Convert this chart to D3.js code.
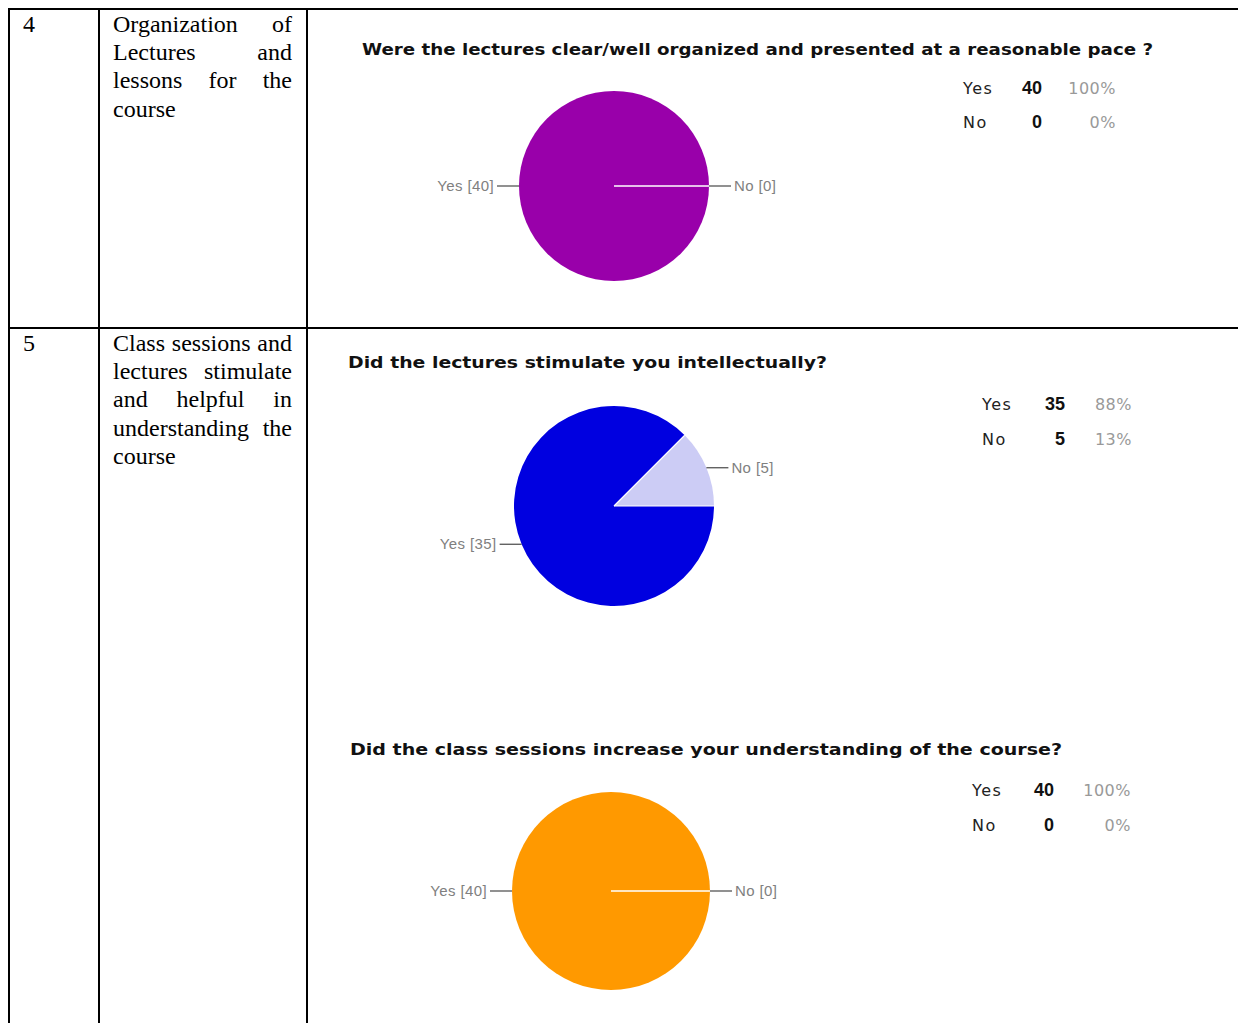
<!DOCTYPE html>
<html>
<head>
<meta charset="utf-8">
<script src="https://cdn.jsdelivr.net/npm/d3@7"></script>
<style>
  body { margin: 0; background: #fff; }
</style>
</head>
<body>
<div id="chart"></div>
<script>
// table rows
let rowNumbers = ["4", "5"];
let rowLabels = [
  ["Organization of", "Lectures and", "lessons for the", "course"],
  ["Class sessions and", "lectures stimulate", "and helpful in", "understanding the", "course"]
];

// the three survey questions
let questions = [
  "Were the lectures clear/well organized and presented at a reasonable pace ?",
  "Did the lectures stimulate you intellectually?",
  "Did the class sessions increase your understanding of the course?"
];
let answers = ["Yes", "No"];
let counts = [[40, 0], [35, 5], [40, 0]];
let percents = [["100%", "0%"], ["88%", "13%"], ["100%", "0%"]];

// colours of each pie (Yes, No)
let palettes = [["#9900aa", "#e0b3e6"], ["#0000e0", "#ccccf5"], ["#ff9900", "#ffe0b3"]];

let width = 1238;
let height = 1023;

let svg = d3.select("#chart")
  .append("svg")
  .attr("width", width)
  .attr("height", height);

svg.append("rect").attr("width", width).attr("height", height).attr("fill", "#fff");

// ---- table grid ----
let grid = svg.append("g").attr("stroke", "#000").attr("stroke-width", 2);
grid.append("line").attr("x1", 8).attr("x2", width).attr("y1", 9).attr("y2", 9);
grid.append("line").attr("x1", 8).attr("x2", width).attr("y1", 328).attr("y2", 328);
[9, 99, 307].forEach(x => {
  grid.append("line").attr("x1", x).attr("x2", x).attr("y1", 8).attr("y2", height);
});

// ---- table text (justified serif) ----
let rowTops = [32, 351];
let colLeft = 113, colRight = 292, lineH = 28.2;

rowNumbers.forEach((n, i) => {
  svg.append("text")
    .attr("x", 23).attr("y", rowTops[i])
    .style("font-family", "'Liberation Serif', 'Times New Roman', serif")
    .style("font-size", "24px")
    .text(n);

  rowLabels[i].forEach((line, j) => {
    let y = rowTops[i] + j * lineH;
    let words = line.split(" ");
    let isLast = j === rowLabels[i].length - 1;
    let g = svg.append("g");
    let nodes = words.map(w => g.append("text")
      .attr("y", y)
      .style("font-family", "'Liberation Serif', 'Times New Roman', serif")
      .style("font-size", "24px")
      .text(w));
    let widths = nodes.map(t => t.node().getComputedTextLength());
    let total = d3.sum(widths);
    let gap = (isLast || words.length < 2) ? 6 : (colRight - colLeft - total) / (words.length - 1);
    let x = colLeft;
    nodes.forEach((t, k) => {
      t.attr("x", x);
      x += widths[k] + gap;
    });
  });
});

// ---- pies ----
let layouts = [
  { title: [362, 55, 791], cx: 614, cy: 186, r: 95, legend: [963, 1042, 1116, 94, 34] },
  { title: [348, 368, 479], cx: 614, cy: 506, r: 100, legend: [982, 1065, 1132, 410, 35] },
  { title: [350, 755, 712], cx: 611, cy: 891, r: 99, legend: [972, 1054, 1131, 796, 35] }
];

let pie = d3.pie().sort(null).value(d => d.value)
  .startAngle(Math.PI / 2).endAngle(Math.PI / 2 + 2 * Math.PI);

questions.forEach((q, i) => {
  let L = layouts[i];
  let color = d3.scaleOrdinal().domain(answers).range(palettes[i]);

  svg.append("text")
    .attr("x", L.title[0]).attr("y", L.title[1])
    .attr("textLength", L.title[2])
    .attr("lengthAdjust", "spacingAndGlyphs")
    .style("font-family", "'DejaVu Sans', Verdana, sans-serif")
    .style("font-weight", "bold")
    .style("font-size", "16px")
    .style("fill", "#111")
    .text(q);

  let data = answers.map((a, k) => ({ label: a, value: counts[i][k] }));
  let arcs = pie(data);
  let arc = d3.arc().innerRadius(0).outerRadius(L.r);

  let g = svg.append("g").attr("transform", `translate(${L.cx},${L.cy})`);

  g.selectAll("path.slice")
    .data(arcs.filter(d => d.value > 0))
    .join("path")
    .attr("class", "slice")
    .attr("d", arc)
    .attr("fill", d => color(d.data.label));

  // white separators at slice starts
  g.selectAll("line.sep")
    .data(arcs)
    .join("line")
    .attr("class", "sep")
    .attr("x1", 0).attr("y1", 0)
    .attr("x2", d => L.r * Math.sin(d.startAngle))
    .attr("y2", d => -L.r * Math.cos(d.startAngle))
    .attr("stroke", "#fff")
    .attr("stroke-width", 1.2);

  // labels with leader lines
  arcs.forEach(d => {
    let mid = (d.startAngle + d.endAngle) / 2;
    let ex = L.r * Math.sin(mid);
    let ey = -L.r * Math.cos(mid);
    let side = ex >= 0 ? 1 : -1;
    let lx = ex + side * 22;
    g.append("line")
      .attr("x1", ex).attr("y1", ey)
      .attr("x2", lx).attr("y2", ey)
      .attr("stroke", "#555")
      .attr("stroke-width", 1.3);
    g.append("text")
      .attr("x", lx + side * 3).attr("y", ey + 5)
      .attr("text-anchor", side > 0 ? "start" : "end")
      .style("font-family", "'Liberation Sans', Arial, sans-serif")
      .style("font-size", "15px")
      .style("letter-spacing", "0.4px")
      .style("fill", "#808080")
      .text(`${d.data.label} [${d.value}]`);
  });

  // summary table
  let [lx, nx, px, ly, dy] = L.legend;
  answers.forEach((a, k) => {
    let y = ly + k * dy;
    svg.append("text")
      .attr("x", lx).attr("y", y)
      .style("font-family", "'DejaVu Sans', Arial, sans-serif")
      .style("font-size", "16px")
      .style("letter-spacing", "1.5px")
      .style("fill", "#222")
      .text(a);
    svg.append("text")
      .attr("x", nx).attr("y", y)
      .attr("text-anchor", "end")
      .style("font-family", "'Liberation Sans Narrow', 'Liberation Sans', Arial, sans-serif")
      .style("font-weight", "bold")
      .style("font-size", "18px")
      .style("fill", "#111")
      .text(counts[i][k]);
    svg.append("text")
      .attr("x", px).attr("y", y)
      .attr("text-anchor", "end")
      .style("font-family", "'DejaVu Sans', Arial, sans-serif")
      .style("font-size", "16px")
      .style("letter-spacing", "0.5px")
      .style("fill", "#999")
      .text(percents[i][k]);
  });
});
</script>
</body>
</html>
